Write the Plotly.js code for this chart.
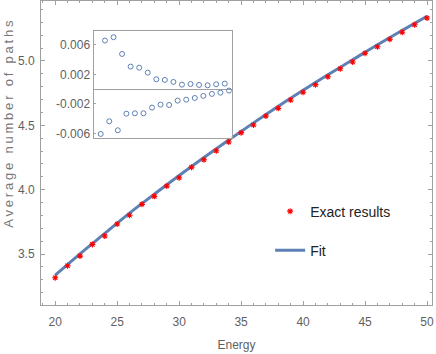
<!DOCTYPE html>
<html>
<head>
<meta charset="utf-8">
<script src="https://cdn.plot.ly/plotly-3.0.1.min.js"></script>
<style>
  html, body { margin: 0; padding: 0; background: #fff; }
  #chart { width: 436px; height: 354px; }
  /* the frame label in the reference is spaced out */
  #chart .infolayer .annotation text { letter-spacing: 2.8px; }
</style>
</head>
<body>
<div id="chart"></div>
<script>
/* values */

// energies for the exact results
const ENERGY = [20, 21, 22, 23, 24, 25, 26, 27, 28, 29, 30, 31, 32, 33, 34, 35,
                36, 37, 38, 39, 40, 41, 42, 43, 44, 45, 46, 47, 48, 49, 50];

// exact results (red stars)
const EXACT = [3.316, 3.409, 3.484, 3.575, 3.640, 3.733, 3.801, 3.886, 3.948, 4.028,
               4.093, 4.174, 4.233, 4.303, 4.370, 4.443, 4.503, 4.573, 4.632, 4.697,
               4.757, 4.816, 4.878, 4.940, 4.992, 5.060, 5.111, 5.169, 5.223, 5.282,
               5.334];

// fit curve, sampled every 2 units
const FIT_E = [20, 22, 24, 26, 28, 30, 32, 34, 36, 38, 40, 42, 44, 46, 48, 50];
const FIT_Y = [3.336, 3.502, 3.660, 3.818, 3.965, 4.110, 4.250, 4.386, 4.519, 4.648,
               4.772, 4.893, 5.009, 5.126, 5.238, 5.348];

// inset: residuals (exact - fit)
const RESID = [-0.00609, 0.00660, -0.00437, 0.00705, -0.00559, 0.00478, -0.00333, 0.00306,
               -0.00328, 0.00292, -0.00328, 0.00224, -0.00251, 0.00134, -0.00211, 0.00125,
               -0.00215, 0.00098, -0.00156, 0.00061, -0.00143, 0.00070, -0.00120, 0.00057,
               -0.00092, 0.00052, -0.00065, 0.00066, -0.00048, 0.00075, -0.00020];

const INSET_TICKS = [-0.006, -0.002, 0.002, 0.006];
const INSET_LABELS = ['-0.006', '-0.002', '0.002', '0.006'];

const BLUE = 'rgb(94, 129, 181)';
const FRAME = 'rgb(160, 160, 160)';
const LABEL = 'rgb(95, 95, 95)';

const traces = [
  {
    x: FIT_E, y: FIT_Y,
    type: 'scatter', mode: 'lines', name: 'Fit',
    line: { color: BLUE, width: 3, shape: 'spline' },
    legendgroup: 'b', legendrank: 2
  },
  {
    x: ENERGY, y: EXACT,
    type: 'scatter', mode: 'markers', name: 'Exact results',
    marker: { symbol: 'asterisk-open', size: 5, color: 'red', line: { color: 'red', width: 1.1 } },
    legendgroup: 'a', legendrank: 1
  },
  {
    x: ENERGY, y: RESID,
    xaxis: 'x2', yaxis: 'y2',
    type: 'scatter', mode: 'markers', showlegend: false,
    marker: { symbol: 'circle-open', size: 5, color: BLUE, line: { color: BLUE, width: 1 } }
  }
];

const frameAxis = {
  showline: true, linecolor: FRAME, linewidth: 1, mirror: 'ticks',
  ticks: 'inside', ticklen: 4, tickcolor: FRAME, tickwidth: 1,
  showgrid: false, zeroline: false,
  tickfont: { family: 'Liberation Sans, Arial, sans-serif', size: 12, color: LABEL }
};

const layout = {
  width: 436, height: 354,
  margin: { l: 41, r: 4, t: 1, b: 49 },
  paper_bgcolor: '#fff', plot_bgcolor: '#fff',
  font: { family: 'Liberation Sans, Arial, sans-serif' },
  xaxis: Object.assign({}, frameAxis, {
    range: [18.854, 50.40], tick0: 0, dtick: 5,
    minor: { dtick: 1, ticks: 'inside', ticklen: 2, tickcolor: FRAME },
    ticklabelstandoff: 6,
    title: { text: 'Energy', standoff: 12, font: { size: 12, color: LABEL } }
  }),
  yaxis: Object.assign({}, frameAxis, {
    range: [3.104, 5.466], tick0: 0, dtick: 0.5, tickformat: '.1f',
    minor: { dtick: 0.1, ticks: 'inside', ticklen: 2, tickcolor: FRAME },
    ticklabelstandoff: 3
  }),
  xaxis2: {
    domain: [0.1343, 0.4877], anchor: 'y2',
    range: [18.317, 50.63],
    showline: true, linecolor: FRAME, mirror: true,
    showticklabels: false, ticks: '', showgrid: false, zeroline: false
  },
  yaxis2: {
    domain: [0.5493, 0.8997], anchor: 'x2',
    range: [-0.00664, 0.00783],
    showline: true, linecolor: FRAME, mirror: true,
    tickvals: INSET_TICKS, ticktext: INSET_LABELS,
    ticks: 'inside', ticklen: 2, tickcolor: FRAME,
    showgrid: false, zeroline: true, zerolinecolor: FRAME, zerolinewidth: 1,
    tickfont: { size: 12, color: LABEL }
  },
  annotations: [{
    text: 'Average number of paths',
    xref: 'paper', yref: 'paper', x: -0.0818, y: 0.60,
    xanchor: 'center', yanchor: 'middle', textangle: -90, showarrow: false,
    font: { size: 13, color: 'rgb(120, 120, 120)' }
  }],
  showlegend: true,
  legend: {
    x: 0.586, xanchor: 'left', y: 0.36, yanchor: 'top',
    bgcolor: 'rgba(0,0,0,0)', borderwidth: 0,
    tracegroupgap: 18, itemwidth: 30,
    font: { size: 14, color: '#222' }
  }
};

Plotly.newPlot('chart', traces, layout, { displayModeBar: false, staticPlot: true });
</script>
</body>
</html>
